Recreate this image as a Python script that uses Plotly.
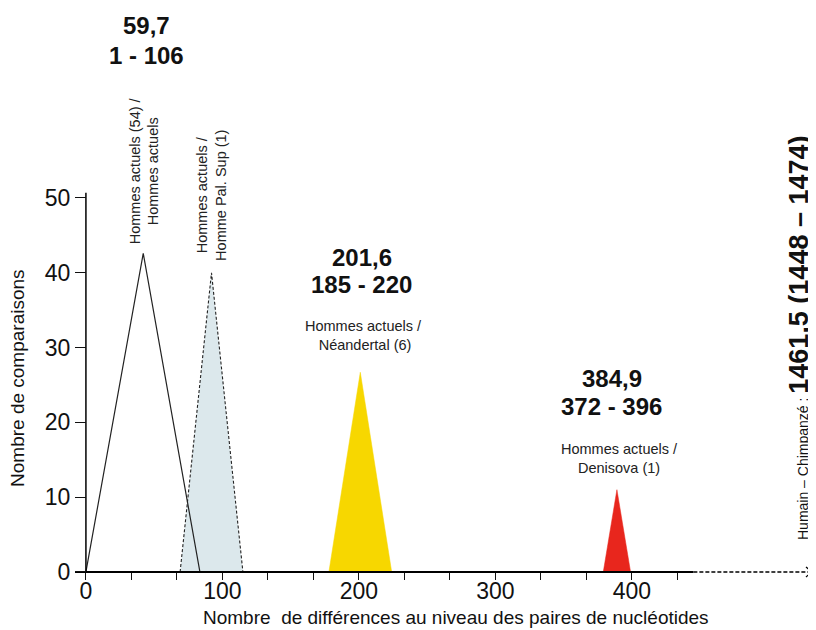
import plotly.graph_objects as go

# ---- data ----
hommes_x = [0, 42, 83.5]
hommes_y = [0, 42.6, 0]

palsup_x = [69, 92, 115]
palsup_y = [0, 40, 0]

neand_x = [178, 201, 224]
neand_y = [0, 26.7, 0]

deniso_x = [379, 389, 399]
deniso_y = [0, 11, 0]

x_ticks = [0, 100, 200, 300, 400]
x_minor = [33.3, 66.7, 133.3, 166.7, 233.3, 266.7, 333.3, 366.7, 433.3]
y_ticks = [0, 10, 20, 30, 40, 50]

FONT = "Liberation Sans, Arial, sans-serif"
X_RANGE = [-8, 540.7]
Y_RANGE = [-2.41, 75.4]

fig = go.Figure()

# light blue triangle with dashed outline
fig.add_trace(go.Scatter(x=palsup_x, y=palsup_y, mode="lines", fill="toself",
                         fillcolor="#dce8ec",
                         line=dict(color="#222", width=1.1, dash="3px,2px"),
                         hoverinfo="skip"))
# open triangle
fig.add_trace(go.Scatter(x=hommes_x, y=hommes_y, mode="lines",
                         line=dict(color="#222", width=1.2), hoverinfo="skip"))
# yellow
fig.add_trace(go.Scatter(x=neand_x, y=neand_y, mode="lines", fill="toself",
                         fillcolor="#f7d700", line=dict(color="#f7d700", width=0.5),
                         hoverinfo="skip"))
# red
fig.add_trace(go.Scatter(x=deniso_x, y=deniso_y, mode="lines", fill="toself",
                         fillcolor="#e8261d", line=dict(color="#e8261d", width=0.5),
                         hoverinfo="skip"))

# axis lines
fig.add_trace(go.Scatter(x=[0, 0], y=[0, 50.7], mode="lines",
                         line=dict(color="black", width=1.5), hoverinfo="skip"))
fig.add_trace(go.Scatter(x=[-8, 445], y=[0, 0], mode="lines",
                         line=dict(color="black", width=2), hoverinfo="skip"))
fig.add_trace(go.Scatter(x=[445, 531.5], y=[0, 0], mode="lines",
                         line=dict(color="black", width=1.5, dash="4px,2px"),
                         hoverinfo="skip"))
fig.add_trace(go.Scatter(x=[527.5, 531.9, 527.5], y=[0.67, 0, -0.67], mode="lines",
                         line=dict(color="black", width=1.2), hoverinfo="skip"))

ann = []
def bold(txt, x, y, size=24):
    ann.append(dict(x=x, y=y, text="<b>%s</b>" % txt, showarrow=False,
                    font=dict(family=FONT, size=size, color="#111"),
                    xanchor="center", yanchor="middle"))

def small(txt, x, y, angle=0):
    ann.append(dict(x=x, y=y, text=txt, showarrow=False, textangle=angle,
                    font=dict(family=FONT, size=14.5, color="#222"),
                    xanchor="center", yanchor="middle", align="center"))

bold("59,7", 44.7, 73.0)
bold("1 - 106", 44.7, 69.1)
small("Hommes actuels (54) /<br>Hommes actuels", 42.5, 53.7, -90)
small("Hommes actuels /<br>Homme Pal. Sup (1)", 92.3, 50.4, -90)
bold("201,6", 202.2, 42.1)
bold("185 - 220", 202.2, 38.4)
small("Hommes actuels /<br> Néandertal (6)", 203, 31.6)
bold("384,9", 385.3, 25.9)
bold("372 - 396", 385.3, 22.1)
small("Hommes actuels /<br>Denisova (1)", 391.2, 15.2)

ann.append(dict(x=522.5, y=31.3, showarrow=False, textangle=-90,
                text="<span style='font-size:14px'>Humain – Chimpanzé : </span>"
                     "<b>1461,5 (1448 – 1474)</b>",
                font=dict(family=FONT, size=27, color="#111"),
                xanchor="center", yanchor="middle"))

ann.append(dict(xref="paper", yref="paper", x=0.5087, y=-0.0481,
                text="Nombre  de différences au niveau des paires de nucléotides",
                showarrow=False, font=dict(family=FONT, size=19, color="#111"),
                xanchor="center", yanchor="middle"))
ann.append(dict(xref="paper", yref="paper", x=-0.0761, y=0.3643,
                text="Nombre de comparaisons", textangle=-90,
                showarrow=False, font=dict(family=FONT, size=19, color="#111"),
                xanchor="center", yanchor="middle"))

fig.update_layout(
    width=816, height=630,
    margin=dict(l=67, r=0, t=0, b=48),
    paper_bgcolor="white", plot_bgcolor="white",
    showlegend=False,
    annotations=ann,
    xaxis=dict(range=X_RANGE, anchor="free", position=2.41 / 77.81,
               showgrid=False, zeroline=False, showline=False,
               tickmode="array", tickvals=x_ticks,
               ticks="outside", ticklen=7, tickwidth=1.2, tickcolor="#111",
               ticklabelstandoff=-9,
               tickfont=dict(family=FONT, size=23, color="#111"),
               minor=dict(tickmode="array", tickvals=x_minor, ticks="outside",
                          ticklen=7, tickwidth=1.2, tickcolor="#111", showgrid=False),
               automargin=False, fixedrange=True),
    yaxis=dict(range=Y_RANGE, anchor="free", position=8 / 548.7,
               showgrid=False, zeroline=False, showline=False,
               tickmode="array", tickvals=y_ticks,
               ticks="outside", ticklen=11, tickwidth=1.2, tickcolor="#111",
               tickfont=dict(family=FONT, size=23, color="#111"),
               automargin=False, fixedrange=True),
)

fig.write_html("out.html")
